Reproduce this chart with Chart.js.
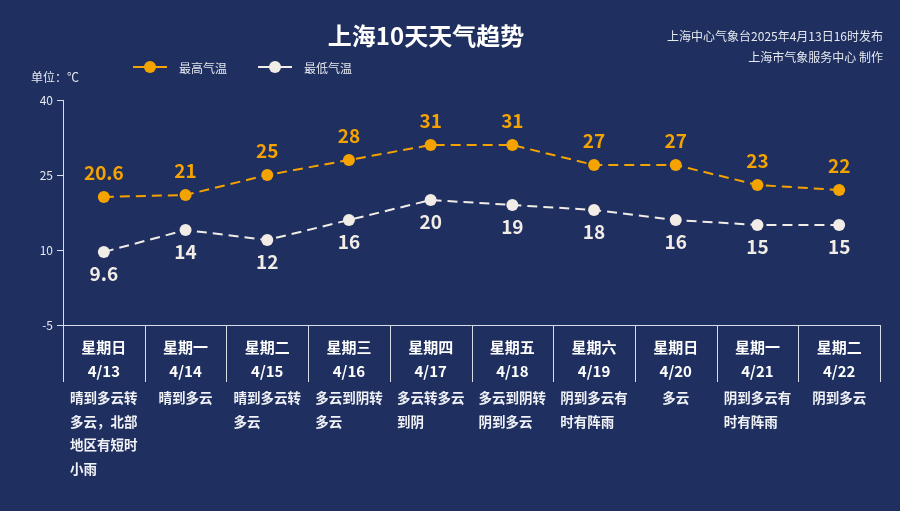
<!DOCTYPE html>
<html><head><meta charset="utf-8">
<script src="https://cdn.jsdelivr.net/npm/chart.js@4"></script>
<style>html,body{margin:0;background:#1f2f5f}#c{display:block}</style>
</head><body>
<div style="width:900px;height:511px"><canvas id="c"></canvas></div>
<script>
const weekdays = ['星期日','星期一','星期二','星期三','星期四','星期五','星期六','星期日','星期一','星期二'];
const dates = ['4/13','4/14','4/15','4/16','4/17','4/18','4/19','4/20','4/21','4/22'];
const descs = [
  ['晴到多云转','多云，北部','地区有短时','小雨'],
  ['晴到多云'],
  ['晴到多云转','多云'],
  ['多云到阴转','多云'],
  ['多云转多云','到阴'],
  ['多云到阴转','阴到多云'],
  ['阴到多云有','时有阵雨'],
  ['多云'],
  ['阴到多云有','时有阵雨'],
  ['阴到多云']
];
const highs = [20.6, 21, 25, 28, 31, 31, 27, 27, 23, 22];
const lows = [9.6, 14, 12, 16, 20, 19, 18, 16, 15, 15];
const yTicks = [-5, 10, 25, 40];

const FONT = '"Noto Sans CJK SC", "Noto Sans", sans-serif';
const ORANGE = '#f5a300', WHITE = '#f2ece6', AXIS = '#d8dce8';

const decor = {
  id: 'decor',
  afterDatasetsDraw(chart) {
    const ctx = chart.ctx, x = chart.scales.x, a = chart.chartArea;
    ctx.save();
    // value labels
    chart.data.datasets.forEach((ds, di) => {
      const meta = chart.getDatasetMeta(di);
      ctx.font = 'bold 19px ' + FONT;
      ctx.fillStyle = ds.borderColor;
      ctx.textAlign = 'center';
      ctx.textBaseline = 'middle';
      meta.data.forEach((p, i) => {
        ctx.fillText(String(ds.data[i]), p.x, di === 0 ? p.y - 24 : p.y + 22);
      });
    });
    // bottom axis line
    ctx.strokeStyle = AXIS; ctx.lineWidth = 1;
    ctx.beginPath(); ctx.moveTo(a.left, a.bottom + 0.5); ctx.lineTo(a.right, a.bottom + 0.5); ctx.stroke();
    const w = (a.right - a.left) / weekdays.length;
    for (let i = 0; i <= weekdays.length; i++) {
      const gx = Math.round(a.left + i * w) + 0.5;
      ctx.beginPath(); ctx.moveTo(gx, a.bottom); ctx.lineTo(gx, a.bottom + 57); ctx.stroke();
    }
    weekdays.forEach((d, i) => {
      const cx = x.getPixelForValue(i);
      ctx.fillStyle = '#ffffff'; ctx.textAlign = 'center'; ctx.textBaseline = 'middle';
      ctx.font = 'bold 15px ' + FONT;
      ctx.fillText(d, cx, a.bottom + 22);
      ctx.fillText(dates[i], cx, a.bottom + 46);
      ctx.font = 'bold 13.5px ' + FONT; ctx.textAlign = 'left'; ctx.fillStyle = '#f0f2f7';
      const bw = Math.max(...descs[i].map(l => ctx.measureText(l).width));
      descs[i].forEach((ln, k) => ctx.fillText(ln, cx - bw / 2, a.bottom + 73 + k * 23.5));
    });
    // titles
    ctx.fillStyle = '#ffffff'; ctx.textAlign = 'center';
    ctx.font = 'bold 24px ' + FONT;
    ctx.fillText('上海10天天气趋势', 426, 36);
    ctx.font = '12px ' + FONT; ctx.textAlign = 'right'; ctx.fillStyle = '#e6e9f0';
    ctx.fillText('上海中心气象台2025年4月13日16时发布', 883, 36);
    ctx.fillText('上海市气象服务中心 制作', 883, 57);
    ctx.textAlign = 'left';
    ctx.fillText('单位：℃', 31, 77);
    // legend
    chart.data.datasets.forEach((ds, di) => {
      const lx = 133 + di * 125, ly = 67;
      ctx.strokeStyle = ds.borderColor; ctx.lineWidth = 2;
      ctx.beginPath(); ctx.moveTo(lx, ly); ctx.lineTo(lx + 34, ly); ctx.stroke();
      ctx.fillStyle = ds.borderColor;
      ctx.beginPath(); ctx.arc(lx + 17, ly, 6, 0, Math.PI * 2); ctx.fill();
      ctx.fillStyle = '#e6e9f0'; ctx.font = '12px ' + FONT;
      ctx.fillText(ds.label, lx + 46, ly + 1);
    });
    ctx.restore();
  }
};

new Chart(document.getElementById('c'), {
  type: 'line',
  data: {
    labels: dates,
    datasets: [
      { label: '最高气温', data: highs, borderColor: ORANGE, backgroundColor: ORANGE,
        borderDash: [10, 6], borderWidth: 2, pointRadius: 6, pointBackgroundColor: ORANGE, pointBorderWidth: 0 },
      { label: '最低气温', data: lows, borderColor: WHITE, backgroundColor: WHITE,
        borderDash: [10, 6], borderWidth: 2, pointRadius: 6, pointBackgroundColor: WHITE, pointBorderWidth: 0 }
    ]
  },
  options: {
    responsive: true, maintainAspectRatio: false, animation: false,
    layout: { padding: { left: 0, right: 20, top: 100, bottom: 186 } },
    plugins: { legend: { display: false }, tooltip: { enabled: false } },
    scales: {
      x: { display: false, offset: true },
      y: {
        min: -5, max: 40,
        afterFit(s) { s.width = 63; },
        afterBuildTicks(s) { s.ticks = yTicks.map(v => ({ value: v })); },
        border: { color: AXIS, width: 1 },
        grid: { drawOnChartArea: false, color: AXIS, tickLength: 6 },
        ticks: { color: '#e6e9f0', font: { size: 12, family: FONT }, padding: 4 }
      }
    }
  },
  plugins: [decor]
});
</script>
</body></html>
